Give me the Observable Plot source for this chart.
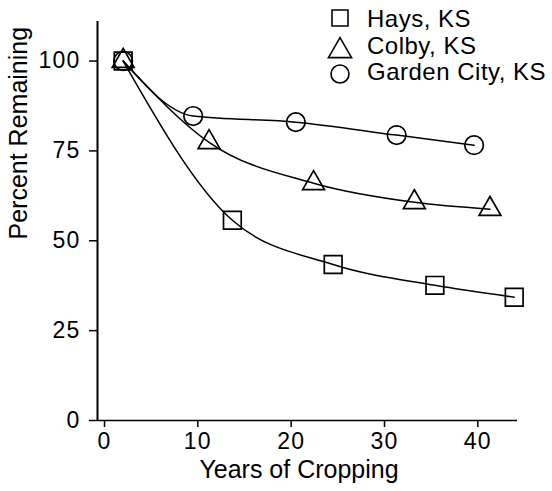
<!DOCTYPE html>
<html><head><meta charset="utf-8">
<script src="https://cdn.jsdelivr.net/npm/d3@7"></script>
<script src="https://cdn.jsdelivr.net/npm/@observablehq/plot@0.6"></script>
<style>
html,body{margin:0;padding:0;background:#fff;}
#chart svg{display:block;}
</style></head><body><div id="chart"></div>
<script>
// Data
const seriesNames = ["Hays, KS", "Colby, KS", "Garden City, KS"];
const haysYears = [2, 13.7, 24.5, 35.4, 43.9];
const haysPct = [100, 55.7, 43.4, 37.6, 34.3];
const colbyYears = [2, 11.2, 22.4, 33.2, 41.3];
const colbyPct = [100, 77.4, 66.0, 60.7, 58.8];
const gardenYears = [2, 9.5, 20.5, 31.3, 39.6];
const gardenPct = [100, 84.7, 83.0, 79.4, 76.6];
const xTicks = [0, 10, 20, 30, 40];
const yTicks = [0, 25, 50, 75, 100];
const xDomain = [-0.75, 44.25];
const yDomain = [0, 111];

const toRows = (xs, ys, s) => xs.map((x, i) => ({x, y: ys[i], s}));
const hays = toRows(haysYears, haysPct, seriesNames[0]);
const colby = toRows(colbyYears, colbyPct, seriesNames[1]);
const garden = toRows(gardenYears, gardenPct, seriesNames[2]);

const font = "'Liberation Sans', Arial, Helvetica, sans-serif";
const lineOpts = {x: "x", y: "y", curve: "monotone-x", stroke: "#000", strokeWidth: 1.5};
const dotOpts = {x: "x", y: "y", stroke: "#000", fill: "none", strokeWidth: 1.7};

const chart = Plot.plot({
  width: 552, height: 491,
  marginLeft: 97, marginRight: 35, marginTop: 21, marginBottom: 71,
  style: {fontFamily: font, fontSize: "23px", color: "#000", background: "#fff", overflow: "visible"},
  x: {domain: xDomain, label: null},
  y: {domain: yDomain, label: null},
  marks: [
    Plot.axisX({ticks: xTicks, tickSize: 7, tickPadding: 5, label: null, strokeWidth: 1.5, fontSize: 23}),
    Plot.axisY({ticks: yTicks, tickSize: 8, tickPadding: 9, label: null, strokeWidth: 1.5, fontSize: 23}),
    Plot.ruleX([xDomain[0]], {stroke: "#000", strokeWidth: 2}),
    Plot.ruleY([yDomain[0]], {stroke: "#000", strokeWidth: 1.6}),
    Plot.line(hays, lineOpts),
    Plot.line(colby, lineOpts),
    Plot.line(garden, lineOpts),
    Plot.dot(hays, {...dotOpts, symbol: "square", r: 10}),
    Plot.dot(colby, {...dotOpts, symbol: "triangle", r: 8.1}),
    Plot.dot(garden, {...dotOpts, symbol: "circle", r: 9.3}),
    Plot.text(["Years of Cropping"], {frameAnchor: "bottom", dy: 57, dx: -8.5, fontSize: 25, fill: "#000"}),
    Plot.text(["Percent Remaining"], {frameAnchor: "left", rotate: -90, dx: -79, dy: 18.5, fontSize: 25, fill: "#000"})
  ]
});
document.getElementById("chart").appendChild(chart);

// Widen tick label digits slightly to match the reference's wide face
d3.select(chart).selectAll("[aria-label^='x-axis tick label'] text, [aria-label^='y-axis tick label'] text")
  .attr("letter-spacing", 1.2);

// Legend (top-right), drawn into the same SVG
const svg = d3.select(chart);
const legendSymbols = [
  {type: d3.symbolSquare, size: 256},
  {type: d3.symbolTriangle, size: 231},
  {type: d3.symbolCircle, size: 254}
];
const legendX = 340, legendTextX = 367;
const legendSymY = [18, 51, 74];
const legendBaseY = [27, 54, 80];
const lg = svg.append("g").attr("font-family", font).attr("font-size", 24)
  .attr("text-anchor", "start").attr("letter-spacing", 0.5);
seriesNames.forEach((name, i) => {
  lg.append("path")
    .attr("d", d3.symbol(legendSymbols[i].type, legendSymbols[i].size)())
    .attr("transform", `translate(${legendX},${legendSymY[i]})`)
    .attr("fill", "none").attr("stroke", "#000").attr("stroke-width", 1.6);
  lg.append("text").attr("x", legendTextX).attr("y", legendBaseY[i]).attr("fill", "#000").text(name);
});
</script>
</body></html>
